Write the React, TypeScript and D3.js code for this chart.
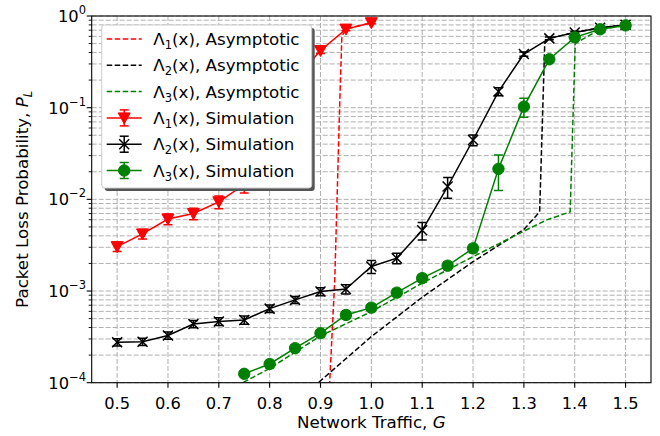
import { scaleLinear, scaleLog, line } from "d3";

// simulation results
const G_RED = [0.5, 0.55, 0.6, 0.65, 0.7, 0.75, 0.8, 0.85, 0.9, 0.95, 1.0];
const SIM1 = [3.05e-3, 4.2e-3, 6.1e-3, 7e-3, 9.4e-3, 0.0145, 0.06, 0.2, 0.42, 0.72, 0.845];
const ERR1 = [0.35e-3, 0.5e-3, 0.8e-3, 1e-3, 1.5e-3, 0.0028, 0.006, 0.02, 0.03, 0.03, 0.02];

const G_BLK = [0.5, 0.55, 0.6, 0.65, 0.7, 0.75, 0.8, 0.85, 0.9, 0.95, 1.0, 1.05, 1.1, 1.15, 1.2, 1.25, 1.3, 1.35, 1.4, 1.45, 1.5];
const SIM2 = [2.76e-4, 2.8e-4, 3.27e-4, 4.37e-4, 4.65e-4, 4.84e-4, 6.43e-4, 8e-4, 9.86e-4, 1.05e-3, 1.85e-3, 2.28e-3, 4.6e-3, 0.0138, 0.0444, 0.15, 0.385, 0.57, 0.66, 0.746, 0.8];
const ERR2 = [0.25e-4, 0.25e-4, 0.3e-4, 0.4e-4, 0.45e-4, 0.5e-4, 0.6e-4, 0.7e-4, 1e-4, 1.2e-4, 3e-4, 3e-4, 1e-3, 0.0035, 0.006, 0.015, 0.02, 0.02, 0.02, 0.02, 0.02];

const G_GRN = [0.75, 0.8, 0.85, 0.9, 0.95, 1.0, 1.05, 1.1, 1.15, 1.2, 1.25, 1.3, 1.35, 1.4, 1.45, 1.5];
const SIM3 = [1.25e-4, 1.6e-4, 2.38e-4, 3.47e-4, 5.48e-4, 6.59e-4, 9.6e-4, 1.38e-3, 1.89e-3, 2.92e-3, 0.0215, 0.1026, 0.337, 0.585, 0.716, 0.79];
const ERR3 = [0.1e-4, 0.15e-4, 0.2e-4, 0.3e-4, 0.5e-4, 0.6e-4, 0.9e-4, 1.3e-4, 1.8e-4, 3e-4, 0.009, 0.024, 0.02, 0.02, 0.02, 0.02];

// asymptotic curves
const G_ASY1 = [0.91, 0.918, 0.928, 0.938, 0.942, 0.95, 1.0];
const ASY1 = [1e-5, 1e-4, 1.3e-3, 0.12, 0.6, 0.72, 0.845];
const G_ASY2 = [0.85, 0.9, 1.0, 1.1, 1.2, 1.3, 1.331, 1.341, 1.35, 1.4, 1.45, 1.5];
const ASY2 = [5.9e-5, 1.05e-4, 3.18e-4, 8.55e-4, 2.09e-3, 4.7e-3, 7.3e-3, 0.5, 0.57, 0.66, 0.746, 0.8];
const G_ASY3 = [0.7, 0.75, 0.8, 0.9, 1.0, 1.1, 1.2, 1.3, 1.345, 1.391, 1.401, 1.45, 1.5];
const ASY3 = [6e-5, 1.02e-4, 1.43e-4, 3.24e-4, 5.96e-4, 1.22e-3, 2.37e-3, 4.5e-3, 5.97e-3, 7.3e-3, 0.5, 0.716, 0.79];

const X_TICKS = [0.5, 0.6, 0.7, 0.8, 0.9, 1.0, 1.1, 1.2, 1.3, 1.4, 1.5];
const Y_DECADES = [-4, -3, -2, -1, 0];

const W = 660, H = 436;
const L = 91.7, R = 651, T = 16, B = 382.7;
const FONT = "DejaVu Sans, sans-serif";
const FS = 16.7; // labels and legend
const TFS = 16.3; // tick labels

const x = scaleLinear().domain([0.45, 1.55]).range([L, R]);
const y = scaleLog().domain([1e-4, 1]).range([B, T]);

type Pt = [number, number];
const path = line<Pt>().x(d => x(d[0])).y(d => y(d[1]));
const zip = (a: number[], b: number[]): Pt[] => a.map((v, i) => [v, b[i]]);

const Marker = ({ kind, cx, cy, color }: { kind: string; cx: number; cy: number; color: string }) => {
  if (kind === "v") return <path d={`M${cx - 6},${cy - 5}L${cx + 6},${cy - 5}L${cx},${cy + 6}Z`} fill={color} stroke={color} strokeWidth={1} />;
  if (kind === "x") return <path d={`M${cx - 5},${cy - 5}L${cx + 5},${cy + 5}M${cx - 5},${cy + 5}L${cx + 5},${cy - 5}`} stroke={color} strokeWidth={1.5} fill="none" />;
  return <circle cx={cx} cy={cy} r={5.7} fill={color} stroke={color} />;
};

const Series = ({ gs, vals, errs, color, kind }: { gs: number[]; vals: number[]; errs: number[]; color: string; kind: string }) => (
  <g>
    <path d={path(zip(gs, vals)) || ""} fill="none" stroke={color} strokeWidth={1.5} />
    {gs.map((g, i) => {
      const cx = x(g);
      const y1 = y(vals[i] + errs[i]);
      const y2 = y(Math.max(vals[i] - errs[i], 1e-6));
      return (
        <g key={i}>
          <line x1={cx} x2={cx} y1={y1} y2={y2} stroke={color} strokeWidth={1.5} />
          <line x1={cx - 4.5} x2={cx + 4.5} y1={y1} y2={y1} stroke={color} strokeWidth={1.5} />
          <line x1={cx - 4.5} x2={cx + 4.5} y1={y2} y2={y2} stroke={color} strokeWidth={1.5} />
          <Marker kind={kind} cx={cx} cy={y(vals[i])} color={color} />
        </g>
      );
    })}
  </g>
);

const Lam = ({ n, rest }: { n: string; rest: string }) => (
  <>
    Λ<tspan dy={4} fontSize={11.5}>{n}</tspan>
    <tspan dy={-4}>{rest}</tspan>
  </>
);

const LEGEND = [
  { n: "1", rest: "(x), Asymptotic", color: "red", dash: true, kind: "" },
  { n: "2", rest: "(x), Asymptotic", color: "black", dash: true, kind: "" },
  { n: "3", rest: "(x), Asymptotic", color: "green", dash: true, kind: "" },
  { n: "1", rest: "(x), Simulation", color: "red", dash: false, kind: "v" },
  { n: "2", rest: "(x), Simulation", color: "black", dash: false, kind: "x" },
  { n: "3", rest: "(x), Simulation", color: "green", dash: false, kind: "o" },
];

const App = () => {
  const minor: number[] = [];
  Y_DECADES.slice(0, -1).forEach(d => {
    for (let k = 2; k <= 9; k++) minor.push(k * Math.pow(10, d));
  });
  const lx = 101.7, ly = 25, lw = 210, lh = 163;
  return (
    <svg width={W} height={H} style={{ position: "absolute", left: 0, top: 0, background: "white" }} fontFamily={FONT}>
      <defs>
        <clipPath id="plot"><rect x={L} y={T} width={R - L} height={B - T} /></clipPath>
      </defs>
      {/* grid */}
      <g stroke="#b0b0b0" strokeWidth={1} strokeDasharray="5,2" fill="none">
        {minor.map((v, i) => <line key={"m" + i} x1={L} x2={R} y1={y(v)} y2={y(v)} />)}
        {Y_DECADES.map(d => <line key={"M" + d} x1={L} x2={R} y1={y(Math.pow(10, d))} y2={y(Math.pow(10, d))} />)}
        {X_TICKS.map(t => <line key={"x" + t} x1={x(t)} x2={x(t)} y1={T} y2={B} />)}
      </g>
      <g clipPath="url(#plot)">
        <path d={path(zip(G_ASY1, ASY1)) || ""} fill="none" stroke="red" strokeWidth={1.5} strokeDasharray="5.5,2.5" />
        <path d={path(zip(G_ASY2, ASY2)) || ""} fill="none" stroke="black" strokeWidth={1.5} strokeDasharray="5.5,2.5" />
        <path d={path(zip(G_ASY3, ASY3)) || ""} fill="none" stroke="green" strokeWidth={1.5} strokeDasharray="5.5,2.5" />
        <Series gs={G_RED} vals={SIM1} errs={ERR1} color="red" kind="v" />
        <Series gs={G_BLK} vals={SIM2} errs={ERR2} color="black" kind="x" />
        <Series gs={G_GRN} vals={SIM3} errs={ERR3} color="green" kind="o" />
      </g>
      {/* axes frame */}
      <rect x={L} y={T} width={R - L} height={B - T} fill="none" stroke="black" strokeWidth={1.1} />
      {X_TICKS.map(t => (
        <g key={t}>
          <line x1={x(t)} x2={x(t)} y1={B} y2={B + 5} stroke="black" strokeWidth={1.1} />
          <text x={x(t)} y={408.5} textAnchor="middle" fontSize={TFS}>{t.toFixed(1)}</text>
        </g>
      ))}
      {minor.map((v, i) => <line key={i} x1={L - 3} x2={L} y1={y(v)} y2={y(v)} stroke="black" strokeWidth={0.9} />)}
      {Y_DECADES.map(d => (
        <g key={d}>
          <line x1={L - 5} x2={L} y1={y(Math.pow(10, d))} y2={y(Math.pow(10, d))} stroke="black" strokeWidth={1.1} />
          <text x={86} y={y(Math.pow(10, d)) + 6} textAnchor="end" fontSize={TFS}>
            10<tspan dy={-8} fontSize={11.5}>{d === 0 ? "0" : "−" + Math.abs(d)}</tspan>
          </text>
        </g>
      ))}
      <text x={(L + R) / 2} y={428} textAnchor="middle" fontSize={FS}>
        Network Traffic, <tspan fontStyle="italic">G</tspan>
      </text>
      <text transform={`translate(28,${(T + B) / 2}) rotate(-90)`} textAnchor="middle" fontSize={FS}>
        Packet Loss Probability, <tspan fontStyle="italic">P</tspan>
        <tspan fontStyle="italic" fontSize={11.5} dy={4}>L</tspan>
      </text>
      {/* legend */}
      <rect x={lx + 3} y={ly + 3} width={lw} height={lh} rx={3} fill="#555" />
      <rect x={lx} y={ly} width={lw} height={lh} rx={3} fill="white" stroke="#cccccc" strokeWidth={1} />
      {LEGEND.map((e, i) => {
        const ry = 39 + i * 26.3;
        const hx = 124.2;
        return (
          <g key={i}>
            <line x1={106.7} x2={141.7} y1={ry} y2={ry} stroke={e.color} strokeWidth={1.5} strokeDasharray={e.dash ? "5.5,2.5" : undefined} />
            {!e.dash && (
              <g>
                <line x1={hx} x2={hx} y1={ry - 8} y2={ry + 8} stroke={e.color} strokeWidth={1.5} />
                <line x1={hx - 4.5} x2={hx + 4.5} y1={ry - 8} y2={ry - 8} stroke={e.color} strokeWidth={1.5} />
                <line x1={hx - 4.5} x2={hx + 4.5} y1={ry + 8} y2={ry + 8} stroke={e.color} strokeWidth={1.5} />
                <Marker kind={e.kind} cx={hx} cy={ry} color={e.color} />
              </g>
            )}
            <text x={153.3} y={ry + 6} fontSize={FS}><Lam n={e.n} rest={e.rest} /></text>
          </g>
        );
      })}
    </svg>
  );
};

export default App;
